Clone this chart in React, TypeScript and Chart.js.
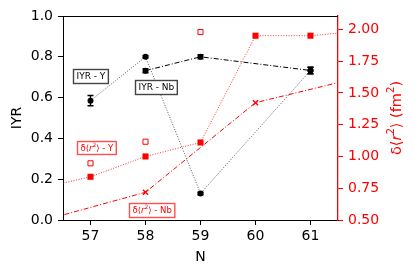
import React, { useEffect, useRef } from "react";
import { Chart, registerables } from "chart.js";
Chart.register(...registerables);

// ---- data ----
const xTicks = [57, 58, 59, 60, 61];
const iyrTicks = [0, 0.2, 0.4, 0.6, 0.8, 1.0];
const drTicks = [0.5, 0.75, 1.0, 1.25, 1.5, 1.75, 2.0];

const iyrYN = [57, 58, 59, 61];
const iyrYVal = [0.585, 0.8, 0.13, 0.733];
const iyrYErr = [0.025, 0.006, 0.006, 0.016];

const iyrNbN = [58, 59, 61];
const iyrNbVal = [0.732, 0.8, 0.733];
const iyrNbErr = [0.01, 0.01, 0.016];

const drYN = [56, 57, 58, 59, 60, 61, 62];
const drYVal = [0.74, 0.84, 1.0, 1.11, 1.95, 1.95, 1.99];

const drYAltN = [57, 58, 59];
const drYAltVal = [0.946, 1.116, 1.979];

const drNbN = [56, 58, 60, 62];
const drNbVal = [0.48, 0.718, 1.423, 1.633];

const FONT = "'DejaVu Sans', sans-serif";
const RED = "#ff0000";

type Run = { t: string; it?: boolean; sup?: boolean };

function runsWidth(ctx: CanvasRenderingContext2D, runs: Run[], size: number) {
  let w = 0;
  for (const r of runs) {
    const s = r.sup ? size * 0.7 : size;
    ctx.font = `${r.it ? "italic " : ""}${s}px ${FONT}`;
    w += ctx.measureText(r.t).width;
  }
  return w;
}

function drawRuns(ctx: CanvasRenderingContext2D, runs: Run[], x0: number, y: number, size: number) {
  let x = x0;
  ctx.textAlign = "left";
  ctx.textBaseline = "middle";
  for (const r of runs) {
    const s = r.sup ? size * 0.7 : size;
    ctx.font = `${r.it ? "italic " : ""}${s}px ${FONT}`;
    ctx.fillText(r.t, x, r.sup ? y - size * 0.38 : y);
    x += ctx.measureText(r.t).width;
  }
}

const drRuns = (suffix: string): Run[] => [
  { t: "δ⟨" },
  { t: "r", it: true },
  { t: "2", sup: true },
  { t: "⟩" + suffix },
];

const annotations = [
  { runs: [{ t: "IYR - Y" }] as Run[], x: 57.0, y: 0.706, color: "#000", border: "#444", size: 9, h: 14 },
  { runs: [{ t: "IYR - Nb" }] as Run[], x: 58.19, y: 0.65, color: "#000", border: "#444", size: 9, h: 14 },
  { runs: drRuns(" - Y"), x: 57.105, y: 0.353, color: RED, border: "#ff5050", size: 8.5, h: 13 },
  { runs: drRuns(" - Nb"), x: 58.11, y: 0.047, color: RED, border: "#ff5050", size: 8.5, h: 14 },
];

const pts = (xs: number[], ys: number[]) => xs.map((x, i) => ({ x, y: ys[i] }));

const extrasPlugin = {
  id: "extras",
  afterDatasetsDraw(chart: any) {
    const ctx: CanvasRenderingContext2D = chart.ctx;
    const xs = chart.scales.x;
    const ys = chart.scales.y;
    ctx.save();
    ctx.strokeStyle = "#000";
    ctx.lineWidth = 1.4;
    const bars = (n: number[], v: number[], e: number[]) => {
      n.forEach((nx, i) => {
        const px = xs.getPixelForValue(nx);
        const y1 = ys.getPixelForValue(v[i] + e[i]);
        const y2 = ys.getPixelForValue(v[i] - e[i]);
        ctx.beginPath();
        ctx.moveTo(px, y1);
        ctx.lineTo(px, y2);
        ctx.moveTo(px - 3, y1);
        ctx.lineTo(px + 3, y1);
        ctx.moveTo(px - 3, y2);
        ctx.lineTo(px + 3, y2);
        ctx.stroke();
      });
    };
    bars(iyrYN, iyrYVal, iyrYErr);
    bars(iyrNbN, iyrNbVal, iyrNbErr);
    ctx.restore();
  },
  afterDraw(chart: any) {
    const ctx: CanvasRenderingContext2D = chart.ctx;
    const a = chart.chartArea;
    const xs = chart.scales.x;
    const ys = chart.scales.y;
    ctx.save();
    // top spine
    ctx.strokeStyle = "#000";
    ctx.lineWidth = 1;
    ctx.beginPath();
    ctx.moveTo(a.left, Math.round(a.top) + 0.5);
    ctx.lineTo(a.right, Math.round(a.top) + 0.5);
    ctx.stroke();

    // annotation boxes
    for (const an of annotations) {
      const w = runsWidth(ctx, an.runs, an.size) + 6;
      const cx = xs.getPixelForValue(an.x);
      const cy = ys.getPixelForValue(an.y);
      const bx = Math.round(cx - w / 2) + 0.5;
      const by = Math.round(cy - an.h / 2) + 0.5;
      ctx.fillStyle = "#fff";
      ctx.fillRect(bx, by, w, an.h);
      ctx.strokeStyle = an.border;
      ctx.lineWidth = 1.4;
      ctx.strokeRect(bx, by, w, an.h);
      ctx.fillStyle = an.color;
      drawRuns(ctx, an.runs, bx + 3, cy + 0.5, an.size);
    }

    // axis titles
    ctx.fillStyle = "#000";
    ctx.font = `14px ${FONT}`;
    ctx.textAlign = "center";
    ctx.textBaseline = "middle";
    ctx.fillText("N", (a.left + a.right) / 2, 257);

    ctx.save();
    ctx.translate(17, (a.top + a.bottom) / 2);
    ctx.rotate(-Math.PI / 2);
    ctx.fillText("IYR", 0, 0);
    ctx.restore();

    ctx.save();
    ctx.fillStyle = RED;
    ctx.translate(397, (a.top + a.bottom) / 2);
    ctx.rotate(-Math.PI / 2);
    const titleRuns: Run[] = [
      { t: "δ⟨" },
      { t: "r", it: true },
      { t: "2", sup: true },
      { t: "⟩ (fm" },
      { t: "2", sup: true },
      { t: ")" },
    ];
    const tw = runsWidth(ctx, titleRuns, 14.5);
    drawRuns(ctx, titleRuns, -tw / 2, 0, 14.5);
    ctx.restore();

    ctx.restore();
  },
};

export default function App() {
  const ref = useRef<HTMLCanvasElement | null>(null);
  useEffect(() => {
    if (!ref.current) return;
    const tickFont = { family: FONT, size: 14 };
    const chart = new Chart(ref.current, {
      type: "line",
      data: {
        datasets: [
          {
            label: "dr Y",
            data: pts(drYN, drYVal),
            yAxisID: "y1",
            borderColor: "rgba(255,0,0,0.8)",
            borderWidth: 1,
            borderDash: [1, 1.6],
            pointStyle: "rect",
            pointRadius: 4.3,
            pointBackgroundColor: RED,
            pointBorderColor: RED,
            pointBorderWidth: 0,
            fill: false,
          } as any,
          {
            label: "dr Y alt",
            data: pts(drYAltN, drYAltVal),
            yAxisID: "y1",
            showLine: false,
            pointStyle: "rect",
            pointRadius: 3.6,
            pointBackgroundColor: "#fff",
            pointBorderColor: RED,
            pointBorderWidth: 1,
          } as any,
          {
            label: "dr Nb",
            data: pts(drNbN, drNbVal),
            yAxisID: "y1",
            borderColor: RED,
            borderWidth: 1,
            borderDash: [5, 2, 1, 2],
            pointStyle: "crossRot",
            pointRadius: 3.6,
            pointBorderColor: RED,
            pointBorderWidth: 1.4,
            fill: false,
          } as any,
          {
            label: "IYR Nb",
            data: pts(iyrNbN, iyrNbVal),
            yAxisID: "y",
            borderColor: "#000",
            borderWidth: 1,
            borderDash: [5, 2, 1, 2],
            pointStyle: "circle",
            pointRadius: 3,
            pointBackgroundColor: "#000",
            pointBorderColor: "#000",
            pointBorderWidth: 0,
            fill: false,
          } as any,
          {
            label: "IYR Y",
            data: pts(iyrYN, iyrYVal),
            yAxisID: "y",
            borderColor: "#555",
            borderWidth: 1,
            borderDash: [1, 1.6],
            pointStyle: "circle",
            pointRadius: 3,
            pointBackgroundColor: "#000",
            pointBorderColor: "#000",
            pointBorderWidth: 0,
            fill: false,
          } as any,
        ],
      },
      options: {
        animation: false,
        responsive: false,
        devicePixelRatio: 1,
        layout: { padding: { top: 16, left: 0, right: 0, bottom: 0 } },
        plugins: { legend: { display: false }, tooltip: { enabled: false } },
        scales: {
          x: {
            type: "linear",
            min: 56.5,
            max: 61.5,
            afterBuildTicks: (s: any) => {
              s.ticks = xTicks.map((v) => ({ value: v }));
            },
            afterFit: (s: any) => {
              s.height = 55;
            },
            grid: { drawOnChartArea: false, drawTicks: true, tickLength: 5, tickColor: "#000", tickWidth: 1 },
            border: { display: true, color: "#000", width: 1 },
            ticks: {
              font: tickFont,
              color: "#000",
              padding: 3,
              maxRotation: 0,
              autoSkip: false,
              callback: (v: any) => String(v),
            },
          },
          y: {
            type: "linear",
            position: "left",
            min: 0,
            max: 1.0,
            afterBuildTicks: (s: any) => {
              s.ticks = iyrTicks.map((v) => ({ value: v }));
            },
            afterFit: (s: any) => {
              s.width = 63;
            },
            grid: { drawOnChartArea: false, drawTicks: true, tickLength: 5, tickColor: "#000", tickWidth: 1 },
            border: { display: true, color: "#000", width: 1 },
            ticks: {
              font: tickFont,
              color: "#000",
              padding: 5,
              autoSkip: false,
              callback: (v: any) => Number(v).toFixed(1),
            },
          },
          y1: {
            type: "linear",
            position: "right",
            min: 0.5,
            max: 2.105,
            afterBuildTicks: (s: any) => {
              s.ticks = drTicks.map((v) => ({ value: v }));
            },
            afterFit: (s: any) => {
              s.width = 77;
            },
            grid: { drawOnChartArea: false, drawTicks: true, tickLength: 5, tickColor: RED, tickWidth: 1 },
            border: { display: true, color: RED, width: 1.3 },
            ticks: {
              font: tickFont,
              color: RED,
              padding: 5,
              autoSkip: false,
              callback: (v: any) => Number(v).toFixed(2),
            },
          },
        },
      } as any,
      plugins: [extrasPlugin],
    });
    return () => chart.destroy();
  }, []);
  return (
    <div style={{ position: "fixed", left: 0, top: 0, width: 415, height: 275, background: "#fff" }}>
      <canvas ref={ref} width={415} height={275} style={{ width: 415, height: 275, display: "block" }} />
    </div>
  );
}
